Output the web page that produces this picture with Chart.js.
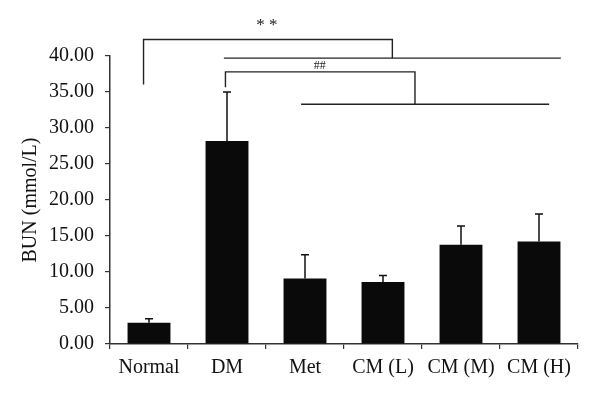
<!DOCTYPE html>
<html>
<head>
<meta charset="utf-8">
<script src="https://cdn.jsdelivr.net/npm/chart.js@4"></script>
<style>
html,body{margin:0;padding:0;background:#fff;}
#wrap{width:600px;height:397px;position:relative;}
</style>
</head>
<body>
<div id="wrap"><canvas id="c" width="600" height="397"></canvas></div>
<script>
// ---- data ----
const categories = ["Normal", "DM", "Met", "CM (L)", "CM (M)", "CM (H)"];
const bunMeans = [2.95, 28.2, 9.1, 8.6, 13.8, 14.25];
const bunErrors = [0.55, 6.8, 3.3, 0.9, 2.6, 3.8];
const yTicks = [0, 5, 10, 15, 20, 25, 30, 35, 40];
// significance annotations, in category-index / value units
const bracketPaths = [
  [[-0.07, 36.05], [-0.07, 42.3], [3.12, 42.3], [3.12, 39.7]],
  [[0.96, 39.7], [5.28, 39.7]],
  [[0.98, 35.65], [0.98, 37.8], [3.41, 37.8], [3.41, 33.2]],
  [[1.95, 33.3], [5.13, 33.3]]
];
const bracketLabels = [
  {text: "* *", x: 1.51, y: 44.2, size: 17},
  {text: "##", x: 2.19, y: 38.65, size: 12}
];

const serif = "'Liberation Serif', 'DejaVu Serif', serif";

const overlay = {
  id: 'overlay',
  afterDatasetsDraw(chart) {
    const ctx = chart.ctx;
    const xs = chart.scales.x, ys = chart.scales.y;
    const meta = chart.getDatasetMeta(0);
    ctx.save();
    // error bars
    ctx.strokeStyle = '#111';
    ctx.lineWidth = 1.5;
    meta.data.forEach((bar, i) => {
      const x = bar.x;
      const y0 = ys.getPixelForValue(bunMeans[i]);
      const y1 = ys.getPixelForValue(bunMeans[i] + bunErrors[i]);
      ctx.beginPath();
      ctx.moveTo(x, y0);
      ctx.lineTo(x, y1);
      ctx.moveTo(x - 4, y1);
      ctx.lineTo(x + 4, y1);
      ctx.stroke();
    });
    // brackets
    ctx.strokeStyle = '#222';
    ctx.lineWidth = 1.4;
    const px = v => xs.getPixelForValue(0) + v * (xs.getPixelForValue(1) - xs.getPixelForValue(0));
    bracketPaths.forEach(path => {
      ctx.beginPath();
      path.forEach((p, k) => {
        const X = px(p[0]), Y = ys.getPixelForValue(p[1]);
        if (k === 0) ctx.moveTo(X, Y); else ctx.lineTo(X, Y);
      });
      ctx.stroke();
    });
    ctx.fillStyle = '#222';
    ctx.textAlign = 'center';
    ctx.textBaseline = 'middle';
    bracketLabels.forEach(l => {
      ctx.font = l.size + 'px ' + serif;
      ctx.fillText(l.text, px(l.x), ys.getPixelForValue(l.y));
    });
    ctx.restore();
  }
};

new Chart(document.getElementById('c'), {
  type: 'bar',
  data: {
    labels: categories,
    datasets: [{
      data: bunMeans,
      backgroundColor: '#0a0a0a',
      borderWidth: 0,
      barPercentage: 0.55,
      categoryPercentage: 1.0
    }]
  },
  options: {
    responsive: false,
    animation: false,
    devicePixelRatio: 1,
    layout: {padding: {top: 56, right: 22, left: 0, bottom: 0}},
    plugins: {legend: {display: false}, tooltip: {enabled: false}},
    scales: {
      x: {
        grid: {drawOnChartArea: false, drawTicks: true, tickLength: 5, color: '#333', lineWidth: 1.2},
        border: {color: '#333', width: 1.5},
        ticks: {color: '#111', font: {family: serif, size: 20}, padding: 7, maxRotation: 0, autoSkip: false},
        afterFit(s) { s.height = 53; }
      },
      y: {
        min: 0, max: 40,
        afterBuildTicks(s) { s.ticks = yTicks.map(v => ({value: v})); },
        grid: {drawOnChartArea: false, drawTicks: true, tickLength: 5, color: '#333', lineWidth: 1.2},
        border: {color: '#333', width: 1.5},
        ticks: {color: '#111', font: {family: serif, size: 20}, padding: 11,
                callback: v => Number(v).toFixed(2)},
        title: {display: true, text: 'BUN (mmol/L)', color: '#111',
                font: {family: serif, size: 20}, padding: {top: 19, bottom: 0}},
        afterFit(s) { s.width = 110; }
      }
    }
  },
  plugins: [overlay]
});
</script>
</body>
</html>
